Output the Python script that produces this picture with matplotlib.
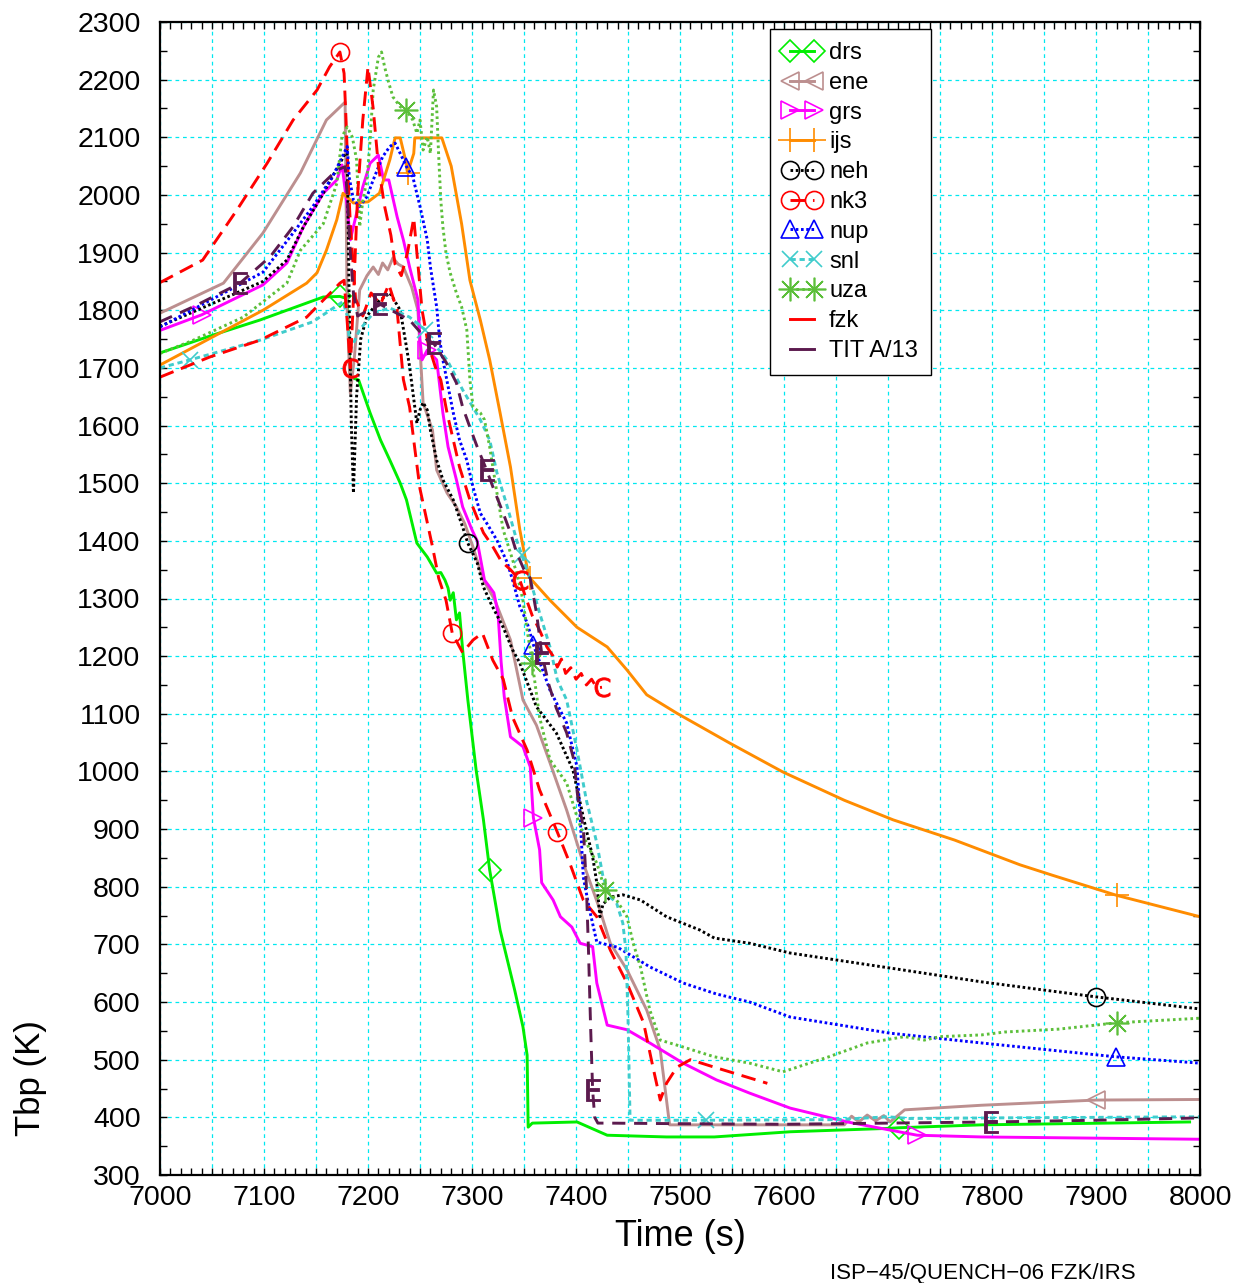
import numpy as np
import matplotlib
matplotlib.use("Agg")
import matplotlib.pyplot as plt
from matplotlib.ticker import MultipleLocator, FuncFormatter
from matplotlib.lines import Line2D

plt.rcParams['font.family'] = ['Liberation Sans', 'DejaVu Sans']

# ---------------- data: time (s) and peak bundle temperature (K) ----------------
drs_t = [7000, 7051, 7096, 7157, 7173, 7180, 7183, 7191, 7202, 7212, 7221, 7231, 7237, 7247, 7257,
         7266, 7270, 7274, 7277, 7279, 7282, 7285, 7288, 7291, 7296, 7304, 7311, 7317, 7327, 7341,
         7349, 7353, 7354, 7358, 7401, 7430, 7487, 7533, 7606, 7702, 7711, 7790, 7990]
drs_T = [1726, 1757, 1783, 1823, 1824, 1820, 1684, 1679, 1622, 1575, 1540, 1500, 1471, 1396, 1372,
         1344, 1345, 1332, 1318, 1297, 1310, 1263, 1275, 1211, 1124, 1002, 916, 829, 725, 621,
         557, 508, 383, 390, 392, 369, 366, 366, 375, 381, 382, 387, 392]
drs_mk = [7173, 7317, 7711]

ene_t = [7000, 7061, 7099, 7135, 7160, 7178, 7180, 7183, 7187, 7192, 7199, 7205, 7210, 7214, 7219,
         7224, 7229, 7234, 7242, 7248, 7250, 7253, 7262, 7266, 7276, 7285, 7293, 7301, 7311, 7322,
         7337, 7349, 7362, 7375, 7391, 7407, 7423, 7433, 7449, 7468, 7481, 7490, 7560, 7658, 7665,
         7672, 7680, 7688, 7696, 7702, 7716, 7790, 7900, 8000]
ene_T = [1795, 1847, 1934, 2038, 2130, 2161, 1800, 1656, 1720, 1835, 1860, 1875, 1862, 1882, 1870,
         1891, 1880, 1875, 1840, 1800, 1736, 1639, 1592, 1523, 1483, 1459, 1430, 1389, 1332, 1297,
         1228, 1124, 1080, 1015, 933, 841, 760, 702, 656, 586, 517, 387, 387, 387, 402,
         392, 404, 394, 403, 392, 413, 421, 430, 431]
ene_mk = [7900]

grs_t = [7000, 7040, 7099, 7122, 7138, 7157, 7170, 7175, 7180, 7183, 7189, 7195, 7202, 7210, 7215,
         7220, 7228, 7234, 7240, 7248, 7250, 7252, 7257, 7266, 7272, 7277, 7285, 7291, 7300, 7305,
         7312, 7317, 7321, 7325, 7328, 7331, 7337, 7349, 7356, 7359, 7365, 7367, 7378, 7385, 7396,
         7404, 7416, 7420, 7430, 7449, 7471, 7503, 7535, 7567, 7606, 7661, 7728, 7790, 8000]
grs_T = [1765, 1792, 1844, 1882, 1945, 2003, 2026, 2052, 1980, 1922, 1968, 2014, 2055, 2069, 2026,
         2026, 1962, 1922, 1875, 1818, 1748, 1714, 1731, 1714, 1622, 1563, 1506, 1459, 1419, 1400,
         1332, 1320, 1310, 1275, 1190, 1130, 1060, 1043, 1008, 920, 864, 807, 777, 748, 730,
         702, 696, 633, 560, 552, 529, 494, 465, 442, 416, 392, 369, 366, 362]
grs_mk = [7040, 7257, 7359, 7728]

ijs_t = [7000, 7051, 7099, 7141, 7151, 7160, 7170, 7176, 7186, 7200, 7211, 7221, 7226, 7231, 7236,
         7238, 7244, 7245, 7271, 7280, 7290, 7298, 7308, 7317, 7327, 7337, 7346, 7354, 7356, 7375,
         7401, 7430, 7449, 7468, 7497, 7548, 7599, 7658, 7705, 7764, 7827, 7858, 7920, 8000]
ijs_T = [1705, 1754, 1800, 1847, 1865, 1904, 1957, 2003, 1986, 1988, 2003, 2061, 2099, 2099, 2061,
         2038, 2072, 2099, 2099, 2050, 1950, 1852, 1783, 1714, 1622, 1528, 1419, 1344, 1335, 1297,
         1250, 1216, 1176, 1133, 1101, 1049, 999, 950, 916, 881, 838, 820, 785, 748]
ijs_mk = [7238, 7356, 7920]

neh_t = [7000, 7099, 7122, 7138, 7157, 7173, 7180, 7182, 7184, 7186, 7189, 7193, 7199, 7210, 7221,
         7231, 7237, 7240, 7247, 7250, 7253, 7257, 7260, 7266, 7272, 7282, 7291, 7296, 7305, 7311,
         7318, 7330, 7339, 7346, 7362, 7381, 7397, 7407, 7416, 7420, 7423, 7426, 7433, 7445, 7462,
         7487, 7519, 7533, 7567, 7606, 7702, 7790, 7900, 8000]
neh_T = [1772, 1850, 1887, 1945, 2003, 2055, 2078, 1800, 1600, 1483, 1650, 1750, 1790, 1815, 1830,
         1800, 1736, 1702, 1604, 1627, 1640, 1627, 1592, 1540, 1506, 1471, 1424, 1396, 1362, 1320,
         1292, 1250, 1211, 1188, 1112, 1067, 1003, 921, 852, 807, 748, 770, 782, 786, 777,
         748, 725, 711, 702, 685, 659, 635, 609, 588]
neh_mk = [7296, 7900]

nk3_t = [7000, 7041, 7074, 7103, 7128, 7151, 7163, 7173, 7177, 7179, 7181, 7183, 7188, 7195, 7203,
         7212, 7220, 7228, 7234, 7240, 7245, 7250, 7256, 7262, 7268, 7275, 7281, 7291, 7301, 7310,
         7320, 7330, 7339, 7353, 7365, 7382, 7394, 7407, 7420, 7433, 7449, 7465, 7474, 7481, 7487,
         7497, 7510, 7533, 7584]
nk3_T = [1848, 1887, 1974, 2055, 2130, 2182, 2222, 2248, 2211, 2125, 2026, 1951, 1820, 1790, 1830,
         1810, 1845, 1800, 1680, 1632, 1560, 1490, 1440, 1390, 1335, 1297, 1240, 1206, 1228, 1240,
         1193, 1160, 1094, 1037, 968, 895, 841, 777, 748, 690, 633, 564, 487, 430, 459,
         487, 500, 487, 459]
nk3_mk = [7173, 7281, 7382]

nup_t = [7000, 7099, 7128, 7147, 7166, 7180, 7182, 7186, 7192, 7199, 7205, 7214, 7221, 7226, 7231,
         7237, 7243, 7250, 7257, 7260, 7266, 7269, 7272, 7282, 7288, 7295, 7301, 7308, 7314, 7324,
         7334, 7339, 7346, 7353, 7359, 7375, 7391, 7401, 7404, 7407, 7413, 7420, 7440, 7471, 7503,
         7535, 7567, 7606, 7702, 7790, 7919, 8000]
nup_T = [1771, 1866, 1934, 1980, 2032, 2084, 2030, 1991, 1980, 1997, 2026, 2066, 2084, 2090, 2072,
         2049, 2032, 1980, 1922, 1875, 1806, 1748, 1714, 1622, 1575, 1540, 1493, 1448, 1431, 1401,
         1362, 1332, 1286, 1258, 1220, 1141, 1084, 1008, 921, 817, 760, 704, 695, 661, 633,
         614, 600, 574, 546, 529, 505, 494]
nup_mk = [7237, 7359, 7919]

snl_t = [7000, 7029, 7096, 7147, 7176, 7180, 7183, 7192, 7205, 7221, 7240, 7255, 7266, 7276, 7291,
         7308, 7317, 7324, 7334, 7343, 7348, 7356, 7365, 7375, 7382, 7391, 7401, 7410, 7420, 7426,
         7433, 7439, 7445, 7448, 7450, 7452, 7525, 7650, 7700, 7720, 7800, 8000]
snl_T = [1700, 1714, 1748, 1780, 1815, 1790, 1731, 1766, 1795, 1804, 1788, 1766, 1736, 1714, 1662,
         1610, 1575, 1518, 1459, 1401, 1375, 1332, 1275, 1216, 1159, 1124, 1037, 950, 876, 817,
         782, 772, 737, 690, 574, 395, 395, 396, 401, 398, 399, 401]
snl_mk = [7029, 7255, 7348, 7525]

uza_t = [7000, 7032, 7080, 7122, 7135, 7157, 7170, 7175, 7180, 7185, 7189, 7192, 7195, 7199, 7202,
         7205, 7210, 7213, 7216, 7220, 7224, 7231, 7237, 7243, 7247, 7250, 7253, 7257, 7260, 7263,
         7266, 7268, 7270, 7272, 7275, 7279, 7285, 7290, 7295, 7298, 7301, 7308, 7312, 7317, 7324,
         7330, 7337, 7343, 7349, 7353, 7358, 7365, 7375, 7391, 7401, 7410, 7420, 7428, 7439, 7449,
         7455, 7462, 7471, 7481, 7503, 7533, 7567, 7599, 7643, 7680, 7716, 7735, 7750, 7790, 7812,
         7864, 7920, 8000]
uza_T = [1725, 1748, 1788, 1847, 1904, 1950, 2020, 2101, 2118, 2100, 2061, 1945, 1990, 2026, 2095,
         2182, 2239, 2248, 2222, 2194, 2170, 2153, 2147, 2130, 2107, 2130, 2078, 2101, 2072, 2182,
         2153, 2066, 1991, 1945, 1899, 1865, 1830, 1806, 1766, 1679, 1632, 1622, 1610, 1563, 1483,
         1419, 1379, 1344, 1297, 1245, 1188, 1094, 1020, 980, 921, 876, 841, 794, 777, 748,
         702, 661, 586, 534, 522, 505, 494, 479, 505, 529, 540, 534, 540, 543, 548,
         553, 564, 572]
uza_mk = [7237, 7358, 7428, 7920]

fzk_t = [7000, 7048, 7096, 7141, 7173, 7177, 7180, 7183, 7186, 7190, 7195, 7200, 7205, 7210, 7216,
         7222, 7226, 7232, 7238, 7244, 7248, 7252, 7258, 7265, 7270, 7276, 7282, 7288, 7298, 7305,
         7311, 7320, 7328, 7337, 7346, 7352, 7358, 7365, 7372, 7378, 7382, 7386, 7390, 7395, 7400,
         7405, 7410, 7415, 7420, 7425]
fzk_T = [1684, 1719, 1748, 1788, 1847, 1852, 1780, 1700, 1820, 2000, 2130, 2222, 2150, 2050, 1980,
         1930, 1880, 1860, 1900, 1960, 1880, 1800, 1740, 1700, 1679, 1622, 1575, 1528, 1471, 1440,
         1414, 1390, 1365, 1350, 1332, 1300, 1270, 1245, 1216, 1200, 1181, 1195, 1170, 1180, 1160,
         1170, 1150, 1160, 1145, 1146]
fzk_mk = [7183, 7346, 7425]

tit_t = [7000, 7032, 7077, 7106, 7128, 7147, 7170, 7178, 7180, 7183, 7186, 7190, 7212, 7240, 7257,
         7263, 7275, 7285, 7291, 7298, 7305, 7314, 7320, 7330, 7337, 7343, 7350, 7356, 7362, 7367,
         7374, 7381, 7391, 7398, 7402, 7407, 7410, 7412, 7414, 7416, 7418, 7421, 7430, 7500, 7600,
         7700, 7799, 7900, 8000]
tit_T = [1780, 1806, 1847, 1893, 1945, 2003, 2043, 2049, 2000, 1900, 1830, 1790, 1810, 1783, 1748,
         1743, 1710, 1674, 1632, 1597, 1563, 1523, 1494, 1448, 1414, 1379, 1350, 1335, 1275, 1205,
         1150, 1110, 1067, 1020, 950, 904, 800, 690, 560, 447, 400, 390, 390, 389, 388,
         390, 392, 395, 399]
tit_mk = [7080, 7212, 7263, 7314, 7367, 7416, 7799]


def mark_idx(t, mk):
    t = np.asarray(t)
    return [int(np.argmin(np.abs(t - m))) for m in mk]


fig = plt.figure(figsize=(12.44, 12.83), dpi=100)
ax = fig.add_axes([160 / 1244, 1 - 1175 / 1283, 1040 / 1244, 1153 / 1283])

lw = 2.1
series = [
    # label, t, T, marker-times, color, dashes, marker, markersize
    ('drs', drs_t, drs_T, drs_mk, '#00ee00', None, 'D', 11),
    ('ene', ene_t, ene_T, ene_mk, '#bc8f8f', None, '<', 13),
    ('grs', grs_t, grs_T, grs_mk, '#ff00ff', None, '>', 13),
    ('ijs', ijs_t, ijs_T, ijs_mk, '#ff8c00', None, '+', 17),
    ('neh', neh_t, neh_T, neh_mk, '#000000', (0.9, 0.9), 'o', 13),
    ('nk3', nk3_t, nk3_T, nk3_mk, '#ff0000', (5.0, 2.7), 'o', 13),
    ('nup', nup_t, nup_T, nup_mk, '#0000ff', (0.9, 0.9), '^', 13),
    ('snl', snl_t, snl_T, snl_mk, '#40cccc', (1.8, 1.3), 'x', 11),
    ('uza', uza_t, uza_T, uza_mk, '#5cbf3a', (0.9, 1.1), (8, 2, 0), 17),
]

handles = []
for lab, t, T, mk, col, dash, m, ms in series:
    kw = dict(color=col, lw=lw, marker=m, ms=ms, mfc='none', mec=col, mew=1.2,
              markevery=mark_idx(t, mk), label=lab)
    line, = ax.plot(t, T, **kw)
    if dash is not None:
        line.set_dashes(dash)
    handles.append(line)

# experimental data: red long dashes with "C" symbols
fz, = ax.plot(fzk_t, fzk_T, color='#ff0000', lw=lw, dashes=(5.0, 2.7), marker=r'$\mathsf{C}$',
              ms=14, mec='#ff0000', mfc='#ff0000', mew=0.6, markevery=mark_idx(fzk_t, fzk_mk))
handles.append(Line2D([], [], color='#ff0000', lw=lw, label='fzk'))

# TIT A/13: dark purple long dashes with "E" symbols
tt, = ax.plot(tit_t, tit_T, color='#5c1a4e', lw=lw, dashes=(4.5, 3.0), marker=r'$\mathsf{E}$',
              ms=16, mec='#5c1a4e', mfc='#5c1a4e', mew=0.6, markevery=mark_idx(tit_t, tit_mk))
handles.append(Line2D([], [], color='#5c1a4e', lw=lw, label='TIT A/13'))

ax.set_xlim(7000, 8000)
ax.set_ylim(300, 2300)

ax.xaxis.set_major_locator(MultipleLocator(50))
ax.xaxis.set_minor_locator(MultipleLocator(10))
ax.xaxis.set_major_formatter(FuncFormatter(lambda v, p: f"{int(round(v))}" if int(round(v)) % 100 == 0 else ""))
ax.yaxis.set_major_locator(MultipleLocator(100))
ax.yaxis.set_minor_locator(MultipleLocator(50))
ax.yaxis.set_major_formatter(FuncFormatter(lambda v, p: f"{int(round(v))}"))

ax.tick_params(which='both', direction='in', top=True, right=True, width=1.0, color='black')
ax.tick_params(which='major', length=5)
ax.tick_params(which='minor', length=5)
ax.tick_params(axis='x', labelsize=20.5, pad=7)
ax.tick_params(axis='y', labelsize=20.5, pad=14)

ax.grid(True, which='major', color='#00e8f0', lw=0.9, ls=(0, (3, 3)))
ax.set_axisbelow(True)
for s in ax.spines.values():
    s.set_linewidth(1.6)

ax.set_xlabel('Time (s)', fontsize=26, labelpad=6)
ax.set_ylabel('Tbp (K)', fontsize=25)
ax.yaxis.set_label_coords((47 - 160) / 1040, (1175 - 1078) / 1153)

leg = ax.legend(handles=handles, loc='upper left', bbox_to_anchor=((770 - 160) / 1040, (1175 - 29) / 1153),
                fontsize=17, numpoints=2, handlelength=1.6, handletextpad=0.35,
                labelspacing=0.33, borderpad=0.55, borderaxespad=0.0, fancybox=False,
                framealpha=1.0, edgecolor='black')
leg.get_frame().set_linewidth(1.0)

fig.text(830 / 1244, 1 - 1273 / 1283, 'ISP\u221245/QUENCH\u221206 FZK/IRS', fontsize=16,
         ha='left', va='center')

fig.savefig('out.png', dpi=100)
